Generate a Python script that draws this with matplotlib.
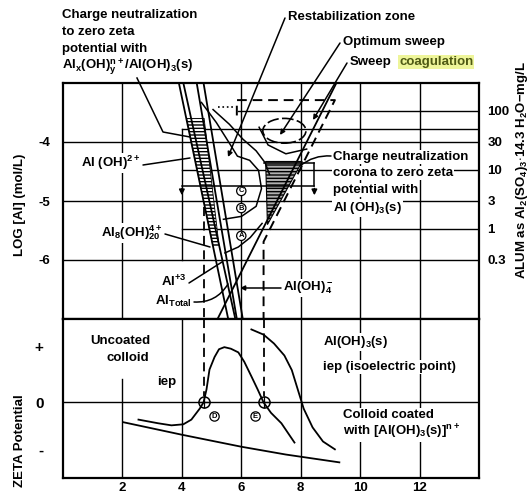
import numpy as np
import matplotlib
matplotlib.use("Agg")
import matplotlib.pyplot as plt
from matplotlib.patches import Polygon, Ellipse
from matplotlib.lines import Line2D

plt.rcParams['font.family'] = ['Liberation Sans', 'DejaVu Sans']
plt.rcParams['font.weight'] = 'bold'
plt.rcParams['mathtext.fontset'] = 'custom'
plt.rcParams['mathtext.rm'] = 'Liberation Sans:bold'
plt.rcParams['mathtext.it'] = 'Liberation Sans:bold'
plt.rcParams['mathtext.bf'] = 'Liberation Sans:bold'
plt.rcParams['hatch.linewidth'] = 1.0

# ---------------- data ----------------
ph_ticks = [2, 4, 6, 8, 10, 12]
ph_tick_labels = ["2", "4", "6", "8", "10", "12"]
log_ticks = [-4, -5, -6]
log_tick_labels = ["-4", "-5", "-6"]
alum_mg_ticks = [100, 30, 10, 3, 1, 0.3]
alum_mg_labels = ["100", "30", "10", "3", "1", "0.3"]
zeta_ticks = [1.08, 0.0, -0.9]
zeta_tick_labels = ["+", "0", "-"]

# species solubility lines (pH, log[Al])
al_oh2_ph, al_oh2_log = [3.90, 5.56], [-3.0, -7.0]
al8_ph, al8_log = [4.05, 5.80], [-3.0, -7.0]
al3_ph, al3_log = [4.50, 5.85], [-3.0, -7.0]
altot_ph, altot_log = [4.73, 6.05], [-3.0, -7.0]
aloh4_ph, aloh4_log = [5.20, 9.20], [-7.0, -3.0]

# hatched charge-neutralisation band
band_ph = [4.16, 4.75, 5.25, 5.04]
band_log = [-3.60, -3.60, -5.75, -5.75]

# sweep coagulation boundary (dashed)
sweep_ph = [5.85, 5.85, 9.15, 6.75, 6.75]
sweep_log = [-3.55, -3.29, -3.29, -5.69, -7.0]
sweep_dot_ph = [5.23, 5.80]
sweep_dot_log = [-3.41, -3.41]

# restabilization zone boundaries
restab_ph = [4.66, 5.16, 5.60, 5.87, 6.28, 6.58, 6.68, 6.50, 6.01, 5.40]
restab_log = [-3.33, -3.67, -4.02, -4.24, -4.31, -4.48, -4.79, -5.09, -5.26, -5.31]
restab2_ph = [5.05, 5.60, 6.05, 6.50, 6.80, 6.95]
restab2_log = [-3.45, -3.70, -3.95, -4.15, -4.35, -4.55]
curveA_ph = [5.45, 5.90, 6.30, 6.70]
curveA_log = [-5.88, -5.78, -5.62, -5.38]

# sweep inner arc and optimum sweep
arc_ph = [6.60, 6.90, 7.50, 8.20]
arc_log = [-3.75, -4.05, -4.20, -4.12]
opt_center = (7.45, -3.81)
opt_size = (1.45, 0.42)

# charge neutralization corona
corona_ph = [6.82, 8.05, 6.88]
corona_log = [-4.33, -4.33, -5.40]

# bracket lines
bracket_ph = [4.0, 8.46]
bracket_log = -4.74
bracket_top_ph = [6.78, 8.46]
bracket_top_log = -4.36
bracket_arrow_end = -4.95

# lettered boundaries
letters_up = ["C", "B", "A"]
letters_up_ph = [6.0, 6.0, 6.0]
letters_up_log = [-4.83, -5.12, -5.59]

# zeta potential panel
uncoated_ph = [2.03, 4.0, 6.0, 7.5, 9.3]
uncoated_zeta = [-0.38, -0.62, -0.85, -1.00, -1.15]
coated_ph = [2.54, 3.20, 3.65, 4.05, 4.32, 4.60, 4.73, 4.83, 4.93, 5.10,
             5.25, 5.43, 5.65, 5.90, 6.10, 6.34, 6.55, 6.75, 7.00, 7.35, 7.79]
coated_zeta = [-0.33, -0.40, -0.44, -0.42, -0.33, -0.12, 0.0, 0.25, 0.63, 0.87,
               1.02, 1.06, 1.03, 0.96, 0.78, 0.50, 0.25, 0.0, -0.20, -0.40, -0.77]
aloh3_ph = [6.34, 6.75, 7.10, 7.45, 7.70, 7.90, 8.10, 8.40, 8.75, 9.15]
aloh3_zeta = [1.40, 1.30, 1.13, 0.90, 0.62, 0.25, -0.12, -0.48, -0.75, -0.90]
iep_ph = [4.73, 6.75]
letters_low = ["D", "E"]
letters_low_ph = [5.10, 6.48]
letters_low_zeta = [-0.27, -0.27]

# ---------------- figure ----------------
W, H = 529, 497
fig = plt.figure(figsize=(W / 100, H / 100), dpi=100)
L, R = 63, 479
T1, B1, B2 = 83, 319, 478
ax1 = fig.add_axes([L / W, 1 - B1 / H, (R - L) / W, (B1 - T1) / H])
ax2 = fig.add_axes([L / W, 1 - B2 / H, (R - L) / W, (B2 - B1) / H])

FS = 9.5
TFS = 9.5
LW = 1.0
for ax in (ax1, ax2):
    for s in ax.spines.values():
        s.set_linewidth(1.6)
    ax.set_xlim(0, 14)
    ax.tick_params(length=0, labelsize=TFS)

ax1.set_ylim(-7, -3)
ax1.set_xticks([])
ax1.set_yticks(log_ticks)
ax1.set_yticklabels(log_tick_labels, fontweight='bold')
ax1.tick_params(axis='y', pad=9)

axr = ax1.twinx()
axr.set_ylim(-7, -3)
axr.set_yticks(np.log10(np.array(alum_mg_ticks) * 2 / 594000.0))
axr.set_yticklabels(alum_mg_labels, fontweight='bold')
axr.tick_params(length=0, labelsize=TFS, pad=6)
for s in axr.spines.values():
    s.set_visible(False)

ax2.set_ylim(-1.45, 1.6)
ax2.set_xticks(ph_ticks)
ax2.set_xticklabels(ph_tick_labels, fontweight='bold')
ax2.set_yticks(zeta_ticks)
ax2.set_yticklabels(zeta_tick_labels, fontweight='bold', fontsize=TFS + 1.5)
ax2.tick_params(axis='y', pad=14)
ax2.tick_params(axis='x', pad=3)

# ---- grid (upper) ----
gkw = dict(color='k', lw=LW, zorder=1)
for v in log_ticks:
    ax1.plot([0, 14], [v, v], **gkw)
mg_lines = np.log10(np.array([50, 10, 1]) * 2 / 594000.0)
for v in mg_lines:
    ax1.plot([4, 14], [v, v], **gkw)
v100 = np.log10(100 * 2 / 594000.0)
ax1.plot([5.9, 14], [v100, v100], **gkw)
for p in [2, 6, 8, 10, 12]:
    ax1.plot([p, p], [-7, -3], **gkw)
ax1.plot([4, 4], [mg_lines[0], -6.0], **gkw)

# ---- grid (lower) ----
ax2.plot([0, 14], [0, 0], **gkw)
ax2.plot([2, 2], [0.45, -1.45], **gkw)
for p in [4, 6, 8, 10, 12]:
    ax2.plot([p, p], [-1.45, 1.6], **gkw)

# ---- upper curves ----
ckw = dict(color='k', lw=1.3, zorder=3)
ax1.add_patch(Polygon(list(zip(band_ph, band_log)), closed=True, facecolor='white',
                      edgecolor='k', hatch='-----', lw=0.6, zorder=2))
for xs, ys in [(al_oh2_ph, al_oh2_log), (al8_ph, al8_log), (al3_ph, al3_log),
               (altot_ph, altot_log), (aloh4_ph, aloh4_log)]:
    ax1.plot(xs, ys, **ckw)
ax1.plot(sweep_ph, sweep_log, color='k', lw=1.4, ls=(0, (5, 3)), zorder=3)
ax1.plot(sweep_dot_ph, sweep_dot_log, color='k', lw=1.2, ls=':', zorder=3)
ax1.plot(restab_ph, restab_log, color='k', lw=1.1, zorder=3)
ax1.plot(restab2_ph, restab2_log, color='k', lw=1.1, zorder=3)
ax1.plot(curveA_ph, curveA_log, color='k', lw=1.1, zorder=3)
ax1.plot(arc_ph, arc_log, color='k', lw=1.1, zorder=3)
ax1.add_patch(Ellipse(opt_center, opt_size[0], opt_size[1], fill=False, lw=1.2,
                      ls=(0, (7, 2)), zorder=3))
ax1.add_patch(Polygon(list(zip(corona_ph, corona_log)), closed=True, facecolor='#b0b0b0',
                      edgecolor='k', hatch='-----', lw=0.8, zorder=2))
# brackets
ax1.plot(bracket_ph, [bracket_log, bracket_log], color='k', lw=1.1, zorder=3)
ax1.plot(bracket_top_ph, [bracket_top_log, bracket_top_log], color='k', lw=1.1, zorder=3)
ax1.plot([bracket_ph[1], bracket_ph[1]], [bracket_top_log, bracket_log], color='k', lw=1.1, zorder=3)
for p in bracket_ph:
    ax1.annotate('', xy=(p, bracket_arrow_end), xytext=(p, bracket_log),
                 arrowprops=dict(arrowstyle='-|>', color='k', lw=1.1, mutation_scale=8), zorder=4)
# dashed verticals
ax1.plot([iep_ph[0], iep_ph[0]], [-5.1, -7], color='k', lw=1.3, ls=(0, (5, 3)), zorder=3)
for t, p, v in zip(letters_up, letters_up_ph, letters_up_log):
    ax1.text(p, v, t, fontsize=5.5, ha='center', va='center', zorder=6,
             bbox=dict(boxstyle='circle,pad=0.15', fc='white', ec='k', lw=0.9))

# ---- lower curves ----
ax2.plot(uncoated_ph, uncoated_zeta, color='k', lw=1.3, zorder=3)
ax2.plot(coated_ph, coated_zeta, color='k', lw=1.3, zorder=3)
ax2.plot(aloh3_ph, aloh3_zeta, color='k', lw=1.3, zorder=3)
for p in iep_ph:
    ax2.plot([p, p], [1.6, 0.12], color='k', lw=1.3, ls=(0, (5, 3)), zorder=3)
ax2.plot(iep_ph, [0, 0], 'o', ms=8, mfc='none', mec='k', mew=1.1, zorder=5)
ax2.plot(iep_ph, [0, 0], '+', ms=8, mec='k', mew=0.9, zorder=5)
for t, p, v in zip(letters_low, letters_low_ph, letters_low_zeta):
    ax2.text(p, v, t, fontsize=5.5, ha='center', va='center', zorder=6,
             bbox=dict(boxstyle='circle,pad=0.15', fc='white', ec='k', lw=0.9))


# ---------------- texts & leaders (figure pixel layout) ----------------
def fpos(x, y):
    return (x / W, 1 - y / H)


WB = dict(facecolor='white', edgecolor='none', pad=0.6)


def T(x, y, s, ha='left', box=True, **kw):
    fig.text(x / W, 1 - y / H, s, ha=ha, va='center', fontsize=FS, fontweight='bold',
             bbox=WB if box else None, zorder=10, **kw)


def leader(p0, p1, head=False, rad=0.0):
    style = '-|>' if head else '-'
    ax1.annotate('', xy=fpos(*p1), xytext=fpos(*p0), xycoords='figure fraction',
                 textcoords='figure fraction', annotation_clip=False,
                 arrowprops=dict(arrowstyle=style, color='k', lw=1.1, mutation_scale=7,
                                 shrinkA=0, shrinkB=0, connectionstyle=f'arc3,rad={rad}'),
                 zorder=9)


T(62, 15, "Charge neutralization", box=False)
T(62, 32, "to zero zeta", box=False)
T(62, 49, "potential with", box=False)
T(62, 67, r"Al$_x$(OH)$_y^{n+}$/Al(OH)$_3$(s)", box=False)
line = Line2D([137 / W, 163 / W, 190 / W], [1 - 78 / H, 1 - 132 / H, 1 - 137 / H],
              transform=fig.transFigure, color='k', lw=1.1, zorder=9)
fig.add_artist(line)

T(288, 17, "Restabilization zone", box=False)
leader((285, 18), (228, 157), head=True)
T(343, 42, "Optimum sweep", box=False)
leader((340, 43), (280, 135), head=True)
T(350, 62, "Sweep", box=False)
fig.text(399 / W, 1 - 62 / H, "coagulation", ha='left', va='center', fontsize=FS,
         fontweight='bold', color='#4f5a14',
         bbox=dict(facecolor='#eef59a', edgecolor='none', pad=0.8), zorder=10)
leader((347, 63), (313, 120), head=True)

T(141, 163, r"Al (OH)$^{2+}$", ha='right')
leader((143, 165), (190, 158))
T(163, 233, r"Al$_8$(OH)$_{20}^{4+}$", ha='right')
leader((165, 234), (210, 247))
T(187, 281, r"Al$^{+3}$", ha='right')
leader((189, 283), (222, 262))
T(192, 301, r"Al$_{Total}$", ha='right')
leader((194, 302), (228, 284), rad=0.3)
T(283, 288, r"Al(OH)$_4^-$")
leader((281, 288), (240, 288), head=True)

T(333, 157, "Charge neutralization")
T(333, 173, "corona to zero zeta")
T(333, 190, "potential with")
T(333, 208, r"Al (OH)$_3$(s)")
leader((331, 156), (300, 166), rad=0.2)

T(150, 341, "Uncoated", ha='right')
T(149, 358, "colloid", ha='right')
leader((130, 366), (137, 424))
T(157, 382, "iep")
leader((178, 383), (199, 400), head=True, rad=-0.5)
T(323, 342, r"Al(OH)$_3$(s)")
leader((321, 343), (287, 357), head=True)
T(323, 367, "iep (isoelectric point)")
leader((321, 368), (265, 400), head=True)
T(343, 415, "Colloid coated")
T(343, 432, r"with [Al(OH)$_3$(s)]$^{n+}$")
leader((341, 415), (283, 424), head=True)

# axis titles
fig.text(20 / W, 1 - 205 / H, "LOG [Al] (mol/L)", rotation=90, ha='center', va='center',
         fontsize=FS, fontweight='bold')
fig.text(20 / W, 1 - 441 / H, "ZETA Potential", rotation=90, ha='center', va='center',
         fontsize=FS, fontweight='bold')
fig.text(522 / W, 1 - 170 / H, r"ALUM as Al$_2$(SO$_4$)$_3$$\cdot$14.3 H$_2$O$-$mg/L",
         rotation=90, ha='center', va='center', fontsize=FS, fontweight='bold')

fig.savefig("out.png", dpi=100)
